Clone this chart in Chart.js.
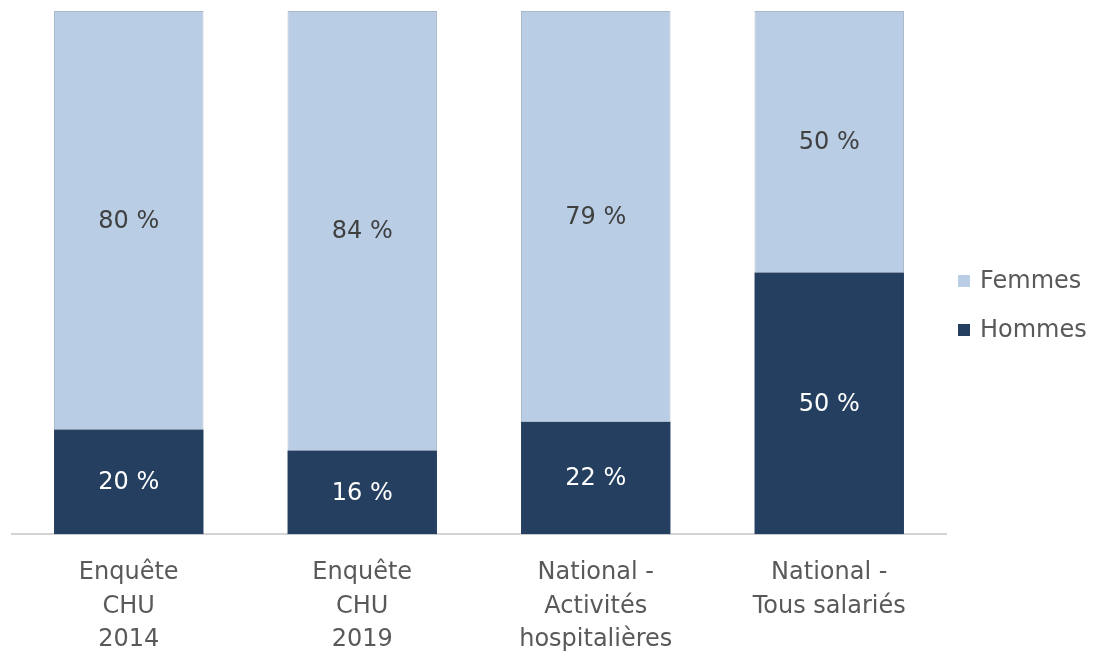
<!DOCTYPE html>
<html>
<head>
<meta charset="utf-8">
<script src="https://cdn.jsdelivr.net/npm/chart.js@4/dist/chart.umd.min.js"></script>
<style>
  html, body { margin: 0; padding: 0; background: #fff; }
  #wrap { width: 1102px; height: 654px; }
</style>
</head>
<body>
<div id="wrap"><canvas id="chart"></canvas></div>
<script>
// categories and shares (in %)
const categories = [
  ['Enquête', 'CHU', '2014'],
  ['Enquête', 'CHU', '2019'],
  ['National -', 'Activités', 'hospitalières'],
  ['National -', 'Tous salariés']
];
const hommes = [20, 16, 21.5, 50];
const femmes = [80, 84, 78.5, 50];

const FONT = '"DejaVu Sans", "Open Sans", sans-serif';

// writes the value in the middle of each segment
const valueLabels = {
  id: 'valueLabels',
  afterDatasetsDraw(chart) {
    const ctx = chart.ctx;
    ctx.save();
    ctx.font = '24px ' + FONT;
    ctx.textAlign = 'center';
    ctx.textBaseline = 'middle';
    chart.data.datasets.forEach((ds, i) => {
      chart.getDatasetMeta(i).data.forEach((bar, j) => {
        const mid = (bar.y + bar.base) / 2;
        ctx.fillStyle = ds.labelColor;
        ctx.fillText(Math.round(ds.data[j]) + ' %', bar.x, mid + 1);
      });
    });
    ctx.restore();
  }
};

// legend on the right, Femmes above Hommes
const sideLegend = {
  id: 'sideLegend',
  afterDraw(chart) {
    const ctx = chart.ctx;
    const x = chart.chartArea.right + 12;
    const items = chart.data.datasets.slice().reverse();
    ctx.save();
    ctx.font = '24px ' + FONT;
    ctx.textBaseline = 'middle';
    items.forEach((ds, k) => {
      const y = 281 + k * 49;
      ctx.fillStyle = ds.backgroundColor;
      ctx.fillRect(x, y - 6, 12, 12);
      ctx.fillStyle = '#595959';
      ctx.fillText(ds.label, x + 22, y + 1);
    });
    ctx.restore();
  }
};

new Chart(document.getElementById('chart'), {
  type: 'bar',
  data: {
    labels: categories,
    datasets: [
      {
        label: 'Hommes',
        data: hommes,
        backgroundColor: '#243f60',
        labelColor: '#ffffff',
        borderWidth: 0
      },
      {
        label: 'Femmes',
        data: femmes,
        backgroundColor: '#b9cde5',
        borderColor: '#a9b7c8',
        borderWidth: {top: 1, right: 1, left: 1, bottom: 0},
        labelColor: '#404040'
      }
    ]
  },
  options: {
    responsive: true,
    maintainAspectRatio: false,
    animation: false,
    layout: { padding: { left: 12, top: 11, right: 156, bottom: -17 } },
    datasets: { bar: { categoryPercentage: 1.0, barPercentage: 0.64 } },
    scales: {
      x: {
        stacked: true,
        grid: { display: false },
        border: { color: '#d4d4d4', width: 2 },
        ticks: {
          color: '#595959',
          font: { family: FONT, size: 24, lineHeight: 1.4 },
          padding: 14,
          maxRotation: 0
        }
      },
      y: {
        stacked: true,
        display: false,
        min: 0,
        max: 100
      }
    },
    plugins: {
      legend: { display: false },
      tooltip: { enabled: false }
    }
  },
  plugins: [valueLabels, sideLegend]
});
</script>
</body>
</html>
